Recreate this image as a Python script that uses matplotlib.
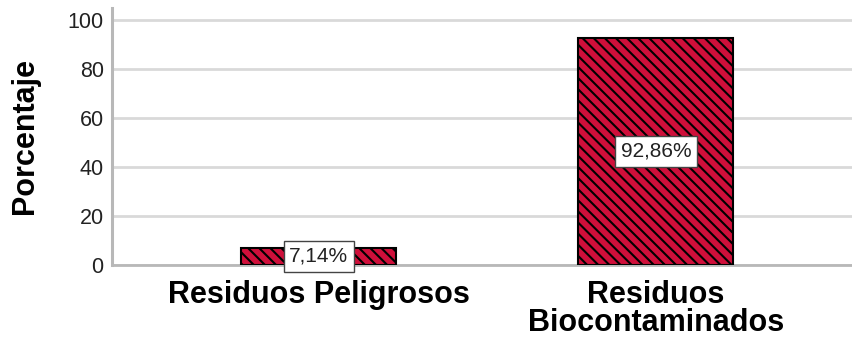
import matplotlib.pyplot as plt

plt.rcParams['font.family'] = ['Liberation Sans', 'DejaVu Sans']
plt.rcParams['hatch.linewidth'] = 1.5

categorias = ['Residuos Peligrosos', 'Residuos\nBiocontaminados']
porcentajes = [7.14, 92.86]
etiquetas = ['7,14%', '92,86%']
yticks = [0, 20, 40, 60, 80, 100]

fig = plt.figure(figsize=(8.53, 3.38), dpi=100)
ax = fig.add_axes([112 / 853, 73 / 338, 741 / 853, 257 / 338])

x = list(range(len(categorias)))
ax.bar(x, porcentajes, width=0.46, color='#cf0f3a', edgecolor='black',
       linewidth=1.5, hatch='\\\\\\', zorder=3)

for xi, v, t in zip(x, porcentajes, etiquetas):
    ax.text(xi, v / 2, t, ha='center', va='center', fontsize=15, zorder=4,
            color='#222222',
            bbox=dict(boxstyle='square,pad=0.28', fc='white', ec='#444444', lw=1))

ax.set_xlim(-0.614, 1.585)
ax.set_ylim(0, 105)
ax.set_yticks(yticks)
ax.set_xticks(x)
ax.set_xticklabels(categorias, fontsize=22, fontweight='bold', linespacing=0.92)
ax.tick_params(axis='y', labelsize=15.5, length=0, pad=6, labelcolor='#222222')
ax.tick_params(axis='x', length=0, pad=11)
ax.set_ylabel('Porcentaje', fontsize=22, fontweight='bold', labelpad=20)

ax.grid(axis='y', color='#d9d9d9', linewidth=2, zorder=0)
for s in ['top', 'right']:
    ax.spines[s].set_visible(False)
ax.spines['left'].set_color('#b8b8b8')
ax.spines['left'].set_linewidth(2.2)
ax.spines['bottom'].set_color('#b8b8b8')
ax.spines['bottom'].set_linewidth(2)

fig.savefig('out.png', dpi=100)
